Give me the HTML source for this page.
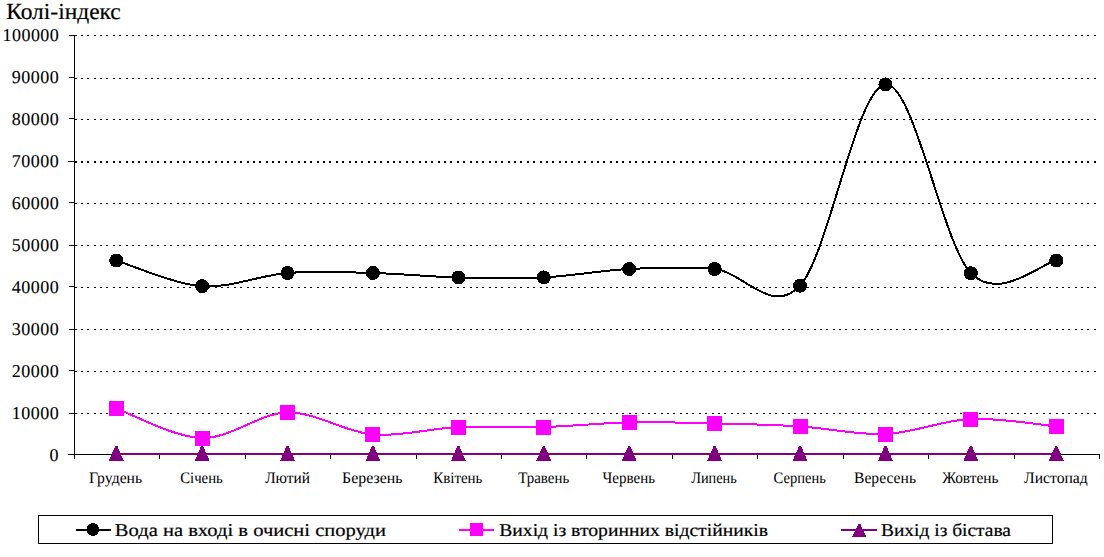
<!DOCTYPE html>
<html><head><meta charset="utf-8"><style>
html,body{margin:0;padding:0;background:#fff;width:1104px;height:557px;overflow:hidden}
svg{display:block;font-family:"Liberation Serif",serif;text-rendering:geometricPrecision}
</style></head><body>
<svg width="1104" height="557" viewBox="0 0 1104 557">
<text x="6.20" y="18.80" font-size="23" textLength="114.60" lengthAdjust="spacingAndGlyphs" stroke="#000" stroke-width="0.20">Колі-індекс</text>
<path d="M75,35h2v1h-2zM81,35h2v1h-2zM87,35h2v1h-2zM94,35h2v1h-2zM100,35h2v1h-2zM106,35h2v1h-2zM113,35h2v1h-2zM119,35h2v1h-2zM126,35h2v1h-2zM132,35h2v1h-2zM138,35h2v1h-2zM145,35h2v1h-2zM151,35h2v1h-2zM157,35h2v1h-2zM164,35h2v1h-2zM170,35h2v1h-2zM177,35h2v1h-2zM183,35h2v1h-2zM189,35h2v1h-2zM196,35h2v1h-2zM202,35h2v1h-2zM208,35h2v1h-2zM215,35h2v1h-2zM221,35h2v1h-2zM227,35h2v1h-2zM234,35h2v1h-2zM240,35h2v1h-2zM247,35h2v1h-2zM253,35h2v1h-2zM259,35h2v1h-2zM266,35h2v1h-2zM272,35h2v1h-2zM278,35h2v1h-2zM285,35h2v1h-2zM291,35h2v1h-2zM298,35h2v1h-2zM304,35h2v1h-2zM310,35h2v1h-2zM317,35h2v1h-2zM323,35h2v1h-2zM329,35h2v1h-2zM336,35h2v1h-2zM342,35h2v1h-2zM349,35h2v1h-2zM355,35h2v1h-2zM361,35h2v1h-2zM368,35h2v1h-2zM374,35h2v1h-2zM380,35h2v1h-2zM387,35h2v1h-2zM393,35h2v1h-2zM399,35h2v1h-2zM406,35h2v1h-2zM412,35h2v1h-2zM419,35h2v1h-2zM425,35h2v1h-2zM431,35h2v1h-2zM438,35h2v1h-2zM444,35h2v1h-2zM450,35h2v1h-2zM457,35h2v1h-2zM463,35h2v1h-2zM470,35h2v1h-2zM476,35h2v1h-2zM482,35h2v1h-2zM489,35h2v1h-2zM495,35h2v1h-2zM501,35h2v1h-2zM508,35h2v1h-2zM514,35h2v1h-2zM520,35h2v1h-2zM527,35h2v1h-2zM533,35h2v1h-2zM540,35h2v1h-2zM546,35h2v1h-2zM552,35h2v1h-2zM559,35h2v1h-2zM565,35h2v1h-2zM571,35h2v1h-2zM578,35h2v1h-2zM584,35h2v1h-2zM591,35h2v1h-2zM597,35h2v1h-2zM603,35h2v1h-2zM610,35h2v1h-2zM616,35h2v1h-2zM622,35h2v1h-2zM629,35h2v1h-2zM635,35h2v1h-2zM642,35h2v1h-2zM648,35h2v1h-2zM654,35h2v1h-2zM661,35h2v1h-2zM667,35h2v1h-2zM673,35h2v1h-2zM680,35h2v1h-2zM686,35h2v1h-2zM692,35h2v1h-2zM699,35h2v1h-2zM705,35h2v1h-2zM712,35h2v1h-2zM718,35h2v1h-2zM724,35h2v1h-2zM731,35h2v1h-2zM737,35h2v1h-2zM743,35h2v1h-2zM750,35h2v1h-2zM756,35h2v1h-2zM763,35h2v1h-2zM769,35h2v1h-2zM775,35h2v1h-2zM782,35h2v1h-2zM788,35h2v1h-2zM794,35h2v1h-2zM801,35h2v1h-2zM807,35h2v1h-2zM814,35h2v1h-2zM820,35h2v1h-2zM826,35h2v1h-2zM833,35h2v1h-2zM839,35h2v1h-2zM845,35h2v1h-2zM852,35h2v1h-2zM858,35h2v1h-2zM864,35h2v1h-2zM871,35h2v1h-2zM877,35h2v1h-2zM884,35h2v1h-2zM890,35h2v1h-2zM896,35h2v1h-2zM903,35h2v1h-2zM909,35h2v1h-2zM915,35h2v1h-2zM922,35h2v1h-2zM928,35h2v1h-2zM935,35h2v1h-2zM941,35h2v1h-2zM947,35h2v1h-2zM954,35h2v1h-2zM960,35h2v1h-2zM966,35h2v1h-2zM973,35h2v1h-2zM979,35h2v1h-2zM986,35h2v1h-2zM992,35h2v1h-2zM998,35h2v1h-2zM1005,35h2v1h-2zM1011,35h2v1h-2zM1017,35h2v1h-2zM1024,35h2v1h-2zM1030,35h2v1h-2zM1036,35h2v1h-2zM1043,35h2v1h-2zM1049,35h2v1h-2zM1056,35h2v1h-2zM1062,35h2v1h-2zM1068,35h2v1h-2zM1075,35h2v1h-2zM1081,35h2v1h-2zM1087,35h2v1h-2zM1094,35h2v1h-2z" fill="#000" shape-rendering="crispEdges"/>
<line x1="69" y1="35.5" x2="75" y2="35.5" stroke="#000" stroke-width="1"/>
<text x="2.60" y="41.00" font-size="18" textLength="56.20" lengthAdjust="spacing" stroke="#000" stroke-width="0.10">100000</text>
<path d="M75,78h2v1h-2zM81,78h2v1h-2zM87,78h2v1h-2zM94,78h2v1h-2zM100,78h2v1h-2zM106,78h2v1h-2zM113,78h2v1h-2zM119,78h2v1h-2zM126,78h2v1h-2zM132,78h2v1h-2zM138,78h2v1h-2zM145,78h2v1h-2zM151,78h2v1h-2zM157,78h2v1h-2zM164,78h2v1h-2zM170,78h2v1h-2zM177,78h2v1h-2zM183,78h2v1h-2zM189,78h2v1h-2zM196,78h2v1h-2zM202,78h2v1h-2zM208,78h2v1h-2zM215,78h2v1h-2zM221,78h2v1h-2zM227,78h2v1h-2zM234,78h2v1h-2zM240,78h2v1h-2zM247,78h2v1h-2zM253,78h2v1h-2zM259,78h2v1h-2zM266,78h2v1h-2zM272,78h2v1h-2zM278,78h2v1h-2zM285,78h2v1h-2zM291,78h2v1h-2zM298,78h2v1h-2zM304,78h2v1h-2zM310,78h2v1h-2zM317,78h2v1h-2zM323,78h2v1h-2zM329,78h2v1h-2zM336,78h2v1h-2zM342,78h2v1h-2zM349,78h2v1h-2zM355,78h2v1h-2zM361,78h2v1h-2zM368,78h2v1h-2zM374,78h2v1h-2zM380,78h2v1h-2zM387,78h2v1h-2zM393,78h2v1h-2zM399,78h2v1h-2zM406,78h2v1h-2zM412,78h2v1h-2zM419,78h2v1h-2zM425,78h2v1h-2zM431,78h2v1h-2zM438,78h2v1h-2zM444,78h2v1h-2zM450,78h2v1h-2zM457,78h2v1h-2zM463,78h2v1h-2zM470,78h2v1h-2zM476,78h2v1h-2zM482,78h2v1h-2zM489,78h2v1h-2zM495,78h2v1h-2zM501,78h2v1h-2zM508,78h2v1h-2zM514,78h2v1h-2zM520,78h2v1h-2zM527,78h2v1h-2zM533,78h2v1h-2zM540,78h2v1h-2zM546,78h2v1h-2zM552,78h2v1h-2zM559,78h2v1h-2zM565,78h2v1h-2zM571,78h2v1h-2zM578,78h2v1h-2zM584,78h2v1h-2zM591,78h2v1h-2zM597,78h2v1h-2zM603,78h2v1h-2zM610,78h2v1h-2zM616,78h2v1h-2zM622,78h2v1h-2zM629,78h2v1h-2zM635,78h2v1h-2zM642,78h2v1h-2zM648,78h2v1h-2zM654,78h2v1h-2zM661,78h2v1h-2zM667,78h2v1h-2zM673,78h2v1h-2zM680,78h2v1h-2zM686,78h2v1h-2zM692,78h2v1h-2zM699,78h2v1h-2zM705,78h2v1h-2zM712,78h2v1h-2zM718,78h2v1h-2zM724,78h2v1h-2zM731,78h2v1h-2zM737,78h2v1h-2zM743,78h2v1h-2zM750,78h2v1h-2zM756,78h2v1h-2zM763,78h2v1h-2zM769,78h2v1h-2zM775,78h2v1h-2zM782,78h2v1h-2zM788,78h2v1h-2zM794,78h2v1h-2zM801,78h2v1h-2zM807,78h2v1h-2zM814,78h2v1h-2zM820,78h2v1h-2zM826,78h2v1h-2zM833,78h2v1h-2zM839,78h2v1h-2zM845,78h2v1h-2zM852,78h2v1h-2zM858,78h2v1h-2zM864,78h2v1h-2zM871,78h2v1h-2zM877,78h2v1h-2zM884,78h2v1h-2zM890,78h2v1h-2zM896,78h2v1h-2zM903,78h2v1h-2zM909,78h2v1h-2zM915,78h2v1h-2zM922,78h2v1h-2zM928,78h2v1h-2zM935,78h2v1h-2zM941,78h2v1h-2zM947,78h2v1h-2zM954,78h2v1h-2zM960,78h2v1h-2zM966,78h2v1h-2zM973,78h2v1h-2zM979,78h2v1h-2zM986,78h2v1h-2zM992,78h2v1h-2zM998,78h2v1h-2zM1005,78h2v1h-2zM1011,78h2v1h-2zM1017,78h2v1h-2zM1024,78h2v1h-2zM1030,78h2v1h-2zM1036,78h2v1h-2zM1043,78h2v1h-2zM1049,78h2v1h-2zM1056,78h2v1h-2zM1062,78h2v1h-2zM1068,78h2v1h-2zM1075,78h2v1h-2zM1081,78h2v1h-2zM1087,78h2v1h-2zM1094,78h2v1h-2z" fill="#000" shape-rendering="crispEdges"/>
<line x1="69" y1="77.5" x2="75" y2="77.5" stroke="#000" stroke-width="1"/>
<text x="11.80" y="83.00" font-size="18" textLength="47.00" lengthAdjust="spacing" stroke="#000" stroke-width="0.10">90000</text>
<path d="M75,119h2v1h-2zM81,119h2v1h-2zM87,119h2v1h-2zM94,119h2v1h-2zM100,119h2v1h-2zM106,119h2v1h-2zM113,119h2v1h-2zM119,119h2v1h-2zM126,119h2v1h-2zM132,119h2v1h-2zM138,119h2v1h-2zM145,119h2v1h-2zM151,119h2v1h-2zM157,119h2v1h-2zM164,119h2v1h-2zM170,119h2v1h-2zM177,119h2v1h-2zM183,119h2v1h-2zM189,119h2v1h-2zM196,119h2v1h-2zM202,119h2v1h-2zM208,119h2v1h-2zM215,119h2v1h-2zM221,119h2v1h-2zM227,119h2v1h-2zM234,119h2v1h-2zM240,119h2v1h-2zM247,119h2v1h-2zM253,119h2v1h-2zM259,119h2v1h-2zM266,119h2v1h-2zM272,119h2v1h-2zM278,119h2v1h-2zM285,119h2v1h-2zM291,119h2v1h-2zM298,119h2v1h-2zM304,119h2v1h-2zM310,119h2v1h-2zM317,119h2v1h-2zM323,119h2v1h-2zM329,119h2v1h-2zM336,119h2v1h-2zM342,119h2v1h-2zM349,119h2v1h-2zM355,119h2v1h-2zM361,119h2v1h-2zM368,119h2v1h-2zM374,119h2v1h-2zM380,119h2v1h-2zM387,119h2v1h-2zM393,119h2v1h-2zM399,119h2v1h-2zM406,119h2v1h-2zM412,119h2v1h-2zM419,119h2v1h-2zM425,119h2v1h-2zM431,119h2v1h-2zM438,119h2v1h-2zM444,119h2v1h-2zM450,119h2v1h-2zM457,119h2v1h-2zM463,119h2v1h-2zM470,119h2v1h-2zM476,119h2v1h-2zM482,119h2v1h-2zM489,119h2v1h-2zM495,119h2v1h-2zM501,119h2v1h-2zM508,119h2v1h-2zM514,119h2v1h-2zM520,119h2v1h-2zM527,119h2v1h-2zM533,119h2v1h-2zM540,119h2v1h-2zM546,119h2v1h-2zM552,119h2v1h-2zM559,119h2v1h-2zM565,119h2v1h-2zM571,119h2v1h-2zM578,119h2v1h-2zM584,119h2v1h-2zM591,119h2v1h-2zM597,119h2v1h-2zM603,119h2v1h-2zM610,119h2v1h-2zM616,119h2v1h-2zM622,119h2v1h-2zM629,119h2v1h-2zM635,119h2v1h-2zM642,119h2v1h-2zM648,119h2v1h-2zM654,119h2v1h-2zM661,119h2v1h-2zM667,119h2v1h-2zM673,119h2v1h-2zM680,119h2v1h-2zM686,119h2v1h-2zM692,119h2v1h-2zM699,119h2v1h-2zM705,119h2v1h-2zM712,119h2v1h-2zM718,119h2v1h-2zM724,119h2v1h-2zM731,119h2v1h-2zM737,119h2v1h-2zM743,119h2v1h-2zM750,119h2v1h-2zM756,119h2v1h-2zM763,119h2v1h-2zM769,119h2v1h-2zM775,119h2v1h-2zM782,119h2v1h-2zM788,119h2v1h-2zM794,119h2v1h-2zM801,119h2v1h-2zM807,119h2v1h-2zM814,119h2v1h-2zM820,119h2v1h-2zM826,119h2v1h-2zM833,119h2v1h-2zM839,119h2v1h-2zM845,119h2v1h-2zM852,119h2v1h-2zM858,119h2v1h-2zM864,119h2v1h-2zM871,119h2v1h-2zM877,119h2v1h-2zM884,119h2v1h-2zM890,119h2v1h-2zM896,119h2v1h-2zM903,119h2v1h-2zM909,119h2v1h-2zM915,119h2v1h-2zM922,119h2v1h-2zM928,119h2v1h-2zM935,119h2v1h-2zM941,119h2v1h-2zM947,119h2v1h-2zM954,119h2v1h-2zM960,119h2v1h-2zM966,119h2v1h-2zM973,119h2v1h-2zM979,119h2v1h-2zM986,119h2v1h-2zM992,119h2v1h-2zM998,119h2v1h-2zM1005,119h2v1h-2zM1011,119h2v1h-2zM1017,119h2v1h-2zM1024,119h2v1h-2zM1030,119h2v1h-2zM1036,119h2v1h-2zM1043,119h2v1h-2zM1049,119h2v1h-2zM1056,119h2v1h-2zM1062,119h2v1h-2zM1068,119h2v1h-2zM1075,119h2v1h-2zM1081,119h2v1h-2zM1087,119h2v1h-2zM1094,119h2v1h-2z" fill="#000" shape-rendering="crispEdges"/>
<line x1="69" y1="118.5" x2="75" y2="118.5" stroke="#000" stroke-width="1"/>
<text x="11.80" y="125.00" font-size="18" textLength="47.00" lengthAdjust="spacing" stroke="#000" stroke-width="0.10">80000</text>
<path d="M75,161h2v2h-2zM81,161h2v2h-2zM87,161h2v2h-2zM94,161h2v2h-2zM100,161h2v2h-2zM106,161h2v2h-2zM113,161h2v2h-2zM119,161h2v2h-2zM126,161h2v2h-2zM132,161h2v2h-2zM138,161h2v2h-2zM145,161h2v2h-2zM151,161h2v2h-2zM157,161h2v2h-2zM164,161h2v2h-2zM170,161h2v2h-2zM177,161h2v2h-2zM183,161h2v2h-2zM189,161h2v2h-2zM196,161h2v2h-2zM202,161h2v2h-2zM208,161h2v2h-2zM215,161h2v2h-2zM221,161h2v2h-2zM227,161h2v2h-2zM234,161h2v2h-2zM240,161h2v2h-2zM247,161h2v2h-2zM253,161h2v2h-2zM259,161h2v2h-2zM266,161h2v2h-2zM272,161h2v2h-2zM278,161h2v2h-2zM285,161h2v2h-2zM291,161h2v2h-2zM298,161h2v2h-2zM304,161h2v2h-2zM310,161h2v2h-2zM317,161h2v2h-2zM323,161h2v2h-2zM329,161h2v2h-2zM336,161h2v2h-2zM342,161h2v2h-2zM349,161h2v2h-2zM355,161h2v2h-2zM361,161h2v2h-2zM368,161h2v2h-2zM374,161h2v2h-2zM380,161h2v2h-2zM387,161h2v2h-2zM393,161h2v2h-2zM399,161h2v2h-2zM406,161h2v2h-2zM412,161h2v2h-2zM419,161h2v2h-2zM425,161h2v2h-2zM431,161h2v2h-2zM438,161h2v2h-2zM444,161h2v2h-2zM450,161h2v2h-2zM457,161h2v2h-2zM463,161h2v2h-2zM470,161h2v2h-2zM476,161h2v2h-2zM482,161h2v2h-2zM489,161h2v2h-2zM495,161h2v2h-2zM501,161h2v2h-2zM508,161h2v2h-2zM514,161h2v2h-2zM520,161h2v2h-2zM527,161h2v2h-2zM533,161h2v2h-2zM540,161h2v2h-2zM546,161h2v2h-2zM552,161h2v2h-2zM559,161h2v2h-2zM565,161h2v2h-2zM571,161h2v2h-2zM578,161h2v2h-2zM584,161h2v2h-2zM591,161h2v2h-2zM597,161h2v2h-2zM603,161h2v2h-2zM610,161h2v2h-2zM616,161h2v2h-2zM622,161h2v2h-2zM629,161h2v2h-2zM635,161h2v2h-2zM642,161h2v2h-2zM648,161h2v2h-2zM654,161h2v2h-2zM661,161h2v2h-2zM667,161h2v2h-2zM673,161h2v2h-2zM680,161h2v2h-2zM686,161h2v2h-2zM692,161h2v2h-2zM699,161h2v2h-2zM705,161h2v2h-2zM712,161h2v2h-2zM718,161h2v2h-2zM724,161h2v2h-2zM731,161h2v2h-2zM737,161h2v2h-2zM743,161h2v2h-2zM750,161h2v2h-2zM756,161h2v2h-2zM763,161h2v2h-2zM769,161h2v2h-2zM775,161h2v2h-2zM782,161h2v2h-2zM788,161h2v2h-2zM794,161h2v2h-2zM801,161h2v2h-2zM807,161h2v2h-2zM814,161h2v2h-2zM820,161h2v2h-2zM826,161h2v2h-2zM833,161h2v2h-2zM839,161h2v2h-2zM845,161h2v2h-2zM852,161h2v2h-2zM858,161h2v2h-2zM864,161h2v2h-2zM871,161h2v2h-2zM877,161h2v2h-2zM884,161h2v2h-2zM890,161h2v2h-2zM896,161h2v2h-2zM903,161h2v2h-2zM909,161h2v2h-2zM915,161h2v2h-2zM922,161h2v2h-2zM928,161h2v2h-2zM935,161h2v2h-2zM941,161h2v2h-2zM947,161h2v2h-2zM954,161h2v2h-2zM960,161h2v2h-2zM966,161h2v2h-2zM973,161h2v2h-2zM979,161h2v2h-2zM986,161h2v2h-2zM992,161h2v2h-2zM998,161h2v2h-2zM1005,161h2v2h-2zM1011,161h2v2h-2zM1017,161h2v2h-2zM1024,161h2v2h-2zM1030,161h2v2h-2zM1036,161h2v2h-2zM1043,161h2v2h-2zM1049,161h2v2h-2zM1056,161h2v2h-2zM1062,161h2v2h-2zM1068,161h2v2h-2zM1075,161h2v2h-2zM1081,161h2v2h-2zM1087,161h2v2h-2zM1094,161h2v2h-2z" fill="#000" shape-rendering="crispEdges"/>
<line x1="68" y1="161.5" x2="75" y2="161.5" stroke="#000" stroke-width="1"/>
<text x="11.80" y="167.00" font-size="18" textLength="47.00" lengthAdjust="spacing" stroke="#000" stroke-width="0.10">70000</text>
<path d="M75,203h2v1h-2zM81,203h2v1h-2zM87,203h2v1h-2zM94,203h2v1h-2zM100,203h2v1h-2zM106,203h2v1h-2zM113,203h2v1h-2zM119,203h2v1h-2zM126,203h2v1h-2zM132,203h2v1h-2zM138,203h2v1h-2zM145,203h2v1h-2zM151,203h2v1h-2zM157,203h2v1h-2zM164,203h2v1h-2zM170,203h2v1h-2zM177,203h2v1h-2zM183,203h2v1h-2zM189,203h2v1h-2zM196,203h2v1h-2zM202,203h2v1h-2zM208,203h2v1h-2zM215,203h2v1h-2zM221,203h2v1h-2zM227,203h2v1h-2zM234,203h2v1h-2zM240,203h2v1h-2zM247,203h2v1h-2zM253,203h2v1h-2zM259,203h2v1h-2zM266,203h2v1h-2zM272,203h2v1h-2zM278,203h2v1h-2zM285,203h2v1h-2zM291,203h2v1h-2zM298,203h2v1h-2zM304,203h2v1h-2zM310,203h2v1h-2zM317,203h2v1h-2zM323,203h2v1h-2zM329,203h2v1h-2zM336,203h2v1h-2zM342,203h2v1h-2zM349,203h2v1h-2zM355,203h2v1h-2zM361,203h2v1h-2zM368,203h2v1h-2zM374,203h2v1h-2zM380,203h2v1h-2zM387,203h2v1h-2zM393,203h2v1h-2zM399,203h2v1h-2zM406,203h2v1h-2zM412,203h2v1h-2zM419,203h2v1h-2zM425,203h2v1h-2zM431,203h2v1h-2zM438,203h2v1h-2zM444,203h2v1h-2zM450,203h2v1h-2zM457,203h2v1h-2zM463,203h2v1h-2zM470,203h2v1h-2zM476,203h2v1h-2zM482,203h2v1h-2zM489,203h2v1h-2zM495,203h2v1h-2zM501,203h2v1h-2zM508,203h2v1h-2zM514,203h2v1h-2zM520,203h2v1h-2zM527,203h2v1h-2zM533,203h2v1h-2zM540,203h2v1h-2zM546,203h2v1h-2zM552,203h2v1h-2zM559,203h2v1h-2zM565,203h2v1h-2zM571,203h2v1h-2zM578,203h2v1h-2zM584,203h2v1h-2zM591,203h2v1h-2zM597,203h2v1h-2zM603,203h2v1h-2zM610,203h2v1h-2zM616,203h2v1h-2zM622,203h2v1h-2zM629,203h2v1h-2zM635,203h2v1h-2zM642,203h2v1h-2zM648,203h2v1h-2zM654,203h2v1h-2zM661,203h2v1h-2zM667,203h2v1h-2zM673,203h2v1h-2zM680,203h2v1h-2zM686,203h2v1h-2zM692,203h2v1h-2zM699,203h2v1h-2zM705,203h2v1h-2zM712,203h2v1h-2zM718,203h2v1h-2zM724,203h2v1h-2zM731,203h2v1h-2zM737,203h2v1h-2zM743,203h2v1h-2zM750,203h2v1h-2zM756,203h2v1h-2zM763,203h2v1h-2zM769,203h2v1h-2zM775,203h2v1h-2zM782,203h2v1h-2zM788,203h2v1h-2zM794,203h2v1h-2zM801,203h2v1h-2zM807,203h2v1h-2zM814,203h2v1h-2zM820,203h2v1h-2zM826,203h2v1h-2zM833,203h2v1h-2zM839,203h2v1h-2zM845,203h2v1h-2zM852,203h2v1h-2zM858,203h2v1h-2zM864,203h2v1h-2zM871,203h2v1h-2zM877,203h2v1h-2zM884,203h2v1h-2zM890,203h2v1h-2zM896,203h2v1h-2zM903,203h2v1h-2zM909,203h2v1h-2zM915,203h2v1h-2zM922,203h2v1h-2zM928,203h2v1h-2zM935,203h2v1h-2zM941,203h2v1h-2zM947,203h2v1h-2zM954,203h2v1h-2zM960,203h2v1h-2zM966,203h2v1h-2zM973,203h2v1h-2zM979,203h2v1h-2zM986,203h2v1h-2zM992,203h2v1h-2zM998,203h2v1h-2zM1005,203h2v1h-2zM1011,203h2v1h-2zM1017,203h2v1h-2zM1024,203h2v1h-2zM1030,203h2v1h-2zM1036,203h2v1h-2zM1043,203h2v1h-2zM1049,203h2v1h-2zM1056,203h2v1h-2zM1062,203h2v1h-2zM1068,203h2v1h-2zM1075,203h2v1h-2zM1081,203h2v1h-2zM1087,203h2v1h-2zM1094,203h2v1h-2z" fill="#000" shape-rendering="crispEdges"/>
<line x1="69" y1="202.5" x2="75" y2="202.5" stroke="#000" stroke-width="1"/>
<text x="11.80" y="209.00" font-size="18" textLength="47.00" lengthAdjust="spacing" stroke="#000" stroke-width="0.10">60000</text>
<path d="M75,245h2v1h-2zM81,245h2v1h-2zM87,245h2v1h-2zM94,245h2v1h-2zM100,245h2v1h-2zM106,245h2v1h-2zM113,245h2v1h-2zM119,245h2v1h-2zM126,245h2v1h-2zM132,245h2v1h-2zM138,245h2v1h-2zM145,245h2v1h-2zM151,245h2v1h-2zM157,245h2v1h-2zM164,245h2v1h-2zM170,245h2v1h-2zM177,245h2v1h-2zM183,245h2v1h-2zM189,245h2v1h-2zM196,245h2v1h-2zM202,245h2v1h-2zM208,245h2v1h-2zM215,245h2v1h-2zM221,245h2v1h-2zM227,245h2v1h-2zM234,245h2v1h-2zM240,245h2v1h-2zM247,245h2v1h-2zM253,245h2v1h-2zM259,245h2v1h-2zM266,245h2v1h-2zM272,245h2v1h-2zM278,245h2v1h-2zM285,245h2v1h-2zM291,245h2v1h-2zM298,245h2v1h-2zM304,245h2v1h-2zM310,245h2v1h-2zM317,245h2v1h-2zM323,245h2v1h-2zM329,245h2v1h-2zM336,245h2v1h-2zM342,245h2v1h-2zM349,245h2v1h-2zM355,245h2v1h-2zM361,245h2v1h-2zM368,245h2v1h-2zM374,245h2v1h-2zM380,245h2v1h-2zM387,245h2v1h-2zM393,245h2v1h-2zM399,245h2v1h-2zM406,245h2v1h-2zM412,245h2v1h-2zM419,245h2v1h-2zM425,245h2v1h-2zM431,245h2v1h-2zM438,245h2v1h-2zM444,245h2v1h-2zM450,245h2v1h-2zM457,245h2v1h-2zM463,245h2v1h-2zM470,245h2v1h-2zM476,245h2v1h-2zM482,245h2v1h-2zM489,245h2v1h-2zM495,245h2v1h-2zM501,245h2v1h-2zM508,245h2v1h-2zM514,245h2v1h-2zM520,245h2v1h-2zM527,245h2v1h-2zM533,245h2v1h-2zM540,245h2v1h-2zM546,245h2v1h-2zM552,245h2v1h-2zM559,245h2v1h-2zM565,245h2v1h-2zM571,245h2v1h-2zM578,245h2v1h-2zM584,245h2v1h-2zM591,245h2v1h-2zM597,245h2v1h-2zM603,245h2v1h-2zM610,245h2v1h-2zM616,245h2v1h-2zM622,245h2v1h-2zM629,245h2v1h-2zM635,245h2v1h-2zM642,245h2v1h-2zM648,245h2v1h-2zM654,245h2v1h-2zM661,245h2v1h-2zM667,245h2v1h-2zM673,245h2v1h-2zM680,245h2v1h-2zM686,245h2v1h-2zM692,245h2v1h-2zM699,245h2v1h-2zM705,245h2v1h-2zM712,245h2v1h-2zM718,245h2v1h-2zM724,245h2v1h-2zM731,245h2v1h-2zM737,245h2v1h-2zM743,245h2v1h-2zM750,245h2v1h-2zM756,245h2v1h-2zM763,245h2v1h-2zM769,245h2v1h-2zM775,245h2v1h-2zM782,245h2v1h-2zM788,245h2v1h-2zM794,245h2v1h-2zM801,245h2v1h-2zM807,245h2v1h-2zM814,245h2v1h-2zM820,245h2v1h-2zM826,245h2v1h-2zM833,245h2v1h-2zM839,245h2v1h-2zM845,245h2v1h-2zM852,245h2v1h-2zM858,245h2v1h-2zM864,245h2v1h-2zM871,245h2v1h-2zM877,245h2v1h-2zM884,245h2v1h-2zM890,245h2v1h-2zM896,245h2v1h-2zM903,245h2v1h-2zM909,245h2v1h-2zM915,245h2v1h-2zM922,245h2v1h-2zM928,245h2v1h-2zM935,245h2v1h-2zM941,245h2v1h-2zM947,245h2v1h-2zM954,245h2v1h-2zM960,245h2v1h-2zM966,245h2v1h-2zM973,245h2v1h-2zM979,245h2v1h-2zM986,245h2v1h-2zM992,245h2v1h-2zM998,245h2v1h-2zM1005,245h2v1h-2zM1011,245h2v1h-2zM1017,245h2v1h-2zM1024,245h2v1h-2zM1030,245h2v1h-2zM1036,245h2v1h-2zM1043,245h2v1h-2zM1049,245h2v1h-2zM1056,245h2v1h-2zM1062,245h2v1h-2zM1068,245h2v1h-2zM1075,245h2v1h-2zM1081,245h2v1h-2zM1087,245h2v1h-2zM1094,245h2v1h-2z" fill="#000" shape-rendering="crispEdges"/>
<line x1="69" y1="245.5" x2="75" y2="245.5" stroke="#000" stroke-width="1"/>
<text x="11.80" y="251.00" font-size="18" textLength="47.00" lengthAdjust="spacing" stroke="#000" stroke-width="0.10">50000</text>
<path d="M75,287h2v1h-2zM81,287h2v1h-2zM87,287h2v1h-2zM94,287h2v1h-2zM100,287h2v1h-2zM106,287h2v1h-2zM113,287h2v1h-2zM119,287h2v1h-2zM126,287h2v1h-2zM132,287h2v1h-2zM138,287h2v1h-2zM145,287h2v1h-2zM151,287h2v1h-2zM157,287h2v1h-2zM164,287h2v1h-2zM170,287h2v1h-2zM177,287h2v1h-2zM183,287h2v1h-2zM189,287h2v1h-2zM196,287h2v1h-2zM202,287h2v1h-2zM208,287h2v1h-2zM215,287h2v1h-2zM221,287h2v1h-2zM227,287h2v1h-2zM234,287h2v1h-2zM240,287h2v1h-2zM247,287h2v1h-2zM253,287h2v1h-2zM259,287h2v1h-2zM266,287h2v1h-2zM272,287h2v1h-2zM278,287h2v1h-2zM285,287h2v1h-2zM291,287h2v1h-2zM298,287h2v1h-2zM304,287h2v1h-2zM310,287h2v1h-2zM317,287h2v1h-2zM323,287h2v1h-2zM329,287h2v1h-2zM336,287h2v1h-2zM342,287h2v1h-2zM349,287h2v1h-2zM355,287h2v1h-2zM361,287h2v1h-2zM368,287h2v1h-2zM374,287h2v1h-2zM380,287h2v1h-2zM387,287h2v1h-2zM393,287h2v1h-2zM399,287h2v1h-2zM406,287h2v1h-2zM412,287h2v1h-2zM419,287h2v1h-2zM425,287h2v1h-2zM431,287h2v1h-2zM438,287h2v1h-2zM444,287h2v1h-2zM450,287h2v1h-2zM457,287h2v1h-2zM463,287h2v1h-2zM470,287h2v1h-2zM476,287h2v1h-2zM482,287h2v1h-2zM489,287h2v1h-2zM495,287h2v1h-2zM501,287h2v1h-2zM508,287h2v1h-2zM514,287h2v1h-2zM520,287h2v1h-2zM527,287h2v1h-2zM533,287h2v1h-2zM540,287h2v1h-2zM546,287h2v1h-2zM552,287h2v1h-2zM559,287h2v1h-2zM565,287h2v1h-2zM571,287h2v1h-2zM578,287h2v1h-2zM584,287h2v1h-2zM591,287h2v1h-2zM597,287h2v1h-2zM603,287h2v1h-2zM610,287h2v1h-2zM616,287h2v1h-2zM622,287h2v1h-2zM629,287h2v1h-2zM635,287h2v1h-2zM642,287h2v1h-2zM648,287h2v1h-2zM654,287h2v1h-2zM661,287h2v1h-2zM667,287h2v1h-2zM673,287h2v1h-2zM680,287h2v1h-2zM686,287h2v1h-2zM692,287h2v1h-2zM699,287h2v1h-2zM705,287h2v1h-2zM712,287h2v1h-2zM718,287h2v1h-2zM724,287h2v1h-2zM731,287h2v1h-2zM737,287h2v1h-2zM743,287h2v1h-2zM750,287h2v1h-2zM756,287h2v1h-2zM763,287h2v1h-2zM769,287h2v1h-2zM775,287h2v1h-2zM782,287h2v1h-2zM788,287h2v1h-2zM794,287h2v1h-2zM801,287h2v1h-2zM807,287h2v1h-2zM814,287h2v1h-2zM820,287h2v1h-2zM826,287h2v1h-2zM833,287h2v1h-2zM839,287h2v1h-2zM845,287h2v1h-2zM852,287h2v1h-2zM858,287h2v1h-2zM864,287h2v1h-2zM871,287h2v1h-2zM877,287h2v1h-2zM884,287h2v1h-2zM890,287h2v1h-2zM896,287h2v1h-2zM903,287h2v1h-2zM909,287h2v1h-2zM915,287h2v1h-2zM922,287h2v1h-2zM928,287h2v1h-2zM935,287h2v1h-2zM941,287h2v1h-2zM947,287h2v1h-2zM954,287h2v1h-2zM960,287h2v1h-2zM966,287h2v1h-2zM973,287h2v1h-2zM979,287h2v1h-2zM986,287h2v1h-2zM992,287h2v1h-2zM998,287h2v1h-2zM1005,287h2v1h-2zM1011,287h2v1h-2zM1017,287h2v1h-2zM1024,287h2v1h-2zM1030,287h2v1h-2zM1036,287h2v1h-2zM1043,287h2v1h-2zM1049,287h2v1h-2zM1056,287h2v1h-2zM1062,287h2v1h-2zM1068,287h2v1h-2zM1075,287h2v1h-2zM1081,287h2v1h-2zM1087,287h2v1h-2zM1094,287h2v1h-2z" fill="#000" shape-rendering="crispEdges"/>
<line x1="69" y1="286.5" x2="75" y2="286.5" stroke="#000" stroke-width="1"/>
<text x="11.80" y="293.00" font-size="18" textLength="47.00" lengthAdjust="spacing" stroke="#000" stroke-width="0.10">40000</text>
<path d="M75,329h2v1h-2zM81,329h2v1h-2zM87,329h2v1h-2zM94,329h2v1h-2zM100,329h2v1h-2zM106,329h2v1h-2zM113,329h2v1h-2zM119,329h2v1h-2zM126,329h2v1h-2zM132,329h2v1h-2zM138,329h2v1h-2zM145,329h2v1h-2zM151,329h2v1h-2zM157,329h2v1h-2zM164,329h2v1h-2zM170,329h2v1h-2zM177,329h2v1h-2zM183,329h2v1h-2zM189,329h2v1h-2zM196,329h2v1h-2zM202,329h2v1h-2zM208,329h2v1h-2zM215,329h2v1h-2zM221,329h2v1h-2zM227,329h2v1h-2zM234,329h2v1h-2zM240,329h2v1h-2zM247,329h2v1h-2zM253,329h2v1h-2zM259,329h2v1h-2zM266,329h2v1h-2zM272,329h2v1h-2zM278,329h2v1h-2zM285,329h2v1h-2zM291,329h2v1h-2zM298,329h2v1h-2zM304,329h2v1h-2zM310,329h2v1h-2zM317,329h2v1h-2zM323,329h2v1h-2zM329,329h2v1h-2zM336,329h2v1h-2zM342,329h2v1h-2zM349,329h2v1h-2zM355,329h2v1h-2zM361,329h2v1h-2zM368,329h2v1h-2zM374,329h2v1h-2zM380,329h2v1h-2zM387,329h2v1h-2zM393,329h2v1h-2zM399,329h2v1h-2zM406,329h2v1h-2zM412,329h2v1h-2zM419,329h2v1h-2zM425,329h2v1h-2zM431,329h2v1h-2zM438,329h2v1h-2zM444,329h2v1h-2zM450,329h2v1h-2zM457,329h2v1h-2zM463,329h2v1h-2zM470,329h2v1h-2zM476,329h2v1h-2zM482,329h2v1h-2zM489,329h2v1h-2zM495,329h2v1h-2zM501,329h2v1h-2zM508,329h2v1h-2zM514,329h2v1h-2zM520,329h2v1h-2zM527,329h2v1h-2zM533,329h2v1h-2zM540,329h2v1h-2zM546,329h2v1h-2zM552,329h2v1h-2zM559,329h2v1h-2zM565,329h2v1h-2zM571,329h2v1h-2zM578,329h2v1h-2zM584,329h2v1h-2zM591,329h2v1h-2zM597,329h2v1h-2zM603,329h2v1h-2zM610,329h2v1h-2zM616,329h2v1h-2zM622,329h2v1h-2zM629,329h2v1h-2zM635,329h2v1h-2zM642,329h2v1h-2zM648,329h2v1h-2zM654,329h2v1h-2zM661,329h2v1h-2zM667,329h2v1h-2zM673,329h2v1h-2zM680,329h2v1h-2zM686,329h2v1h-2zM692,329h2v1h-2zM699,329h2v1h-2zM705,329h2v1h-2zM712,329h2v1h-2zM718,329h2v1h-2zM724,329h2v1h-2zM731,329h2v1h-2zM737,329h2v1h-2zM743,329h2v1h-2zM750,329h2v1h-2zM756,329h2v1h-2zM763,329h2v1h-2zM769,329h2v1h-2zM775,329h2v1h-2zM782,329h2v1h-2zM788,329h2v1h-2zM794,329h2v1h-2zM801,329h2v1h-2zM807,329h2v1h-2zM814,329h2v1h-2zM820,329h2v1h-2zM826,329h2v1h-2zM833,329h2v1h-2zM839,329h2v1h-2zM845,329h2v1h-2zM852,329h2v1h-2zM858,329h2v1h-2zM864,329h2v1h-2zM871,329h2v1h-2zM877,329h2v1h-2zM884,329h2v1h-2zM890,329h2v1h-2zM896,329h2v1h-2zM903,329h2v1h-2zM909,329h2v1h-2zM915,329h2v1h-2zM922,329h2v1h-2zM928,329h2v1h-2zM935,329h2v1h-2zM941,329h2v1h-2zM947,329h2v1h-2zM954,329h2v1h-2zM960,329h2v1h-2zM966,329h2v1h-2zM973,329h2v1h-2zM979,329h2v1h-2zM986,329h2v1h-2zM992,329h2v1h-2zM998,329h2v1h-2zM1005,329h2v1h-2zM1011,329h2v1h-2zM1017,329h2v1h-2zM1024,329h2v1h-2zM1030,329h2v1h-2zM1036,329h2v1h-2zM1043,329h2v1h-2zM1049,329h2v1h-2zM1056,329h2v1h-2zM1062,329h2v1h-2zM1068,329h2v1h-2zM1075,329h2v1h-2zM1081,329h2v1h-2zM1087,329h2v1h-2zM1094,329h2v1h-2z" fill="#000" shape-rendering="crispEdges"/>
<line x1="69" y1="329.5" x2="75" y2="329.5" stroke="#000" stroke-width="1"/>
<text x="11.80" y="335.00" font-size="18" textLength="47.00" lengthAdjust="spacing" stroke="#000" stroke-width="0.10">30000</text>
<path d="M75,371h2v1h-2zM81,371h2v1h-2zM87,371h2v1h-2zM94,371h2v1h-2zM100,371h2v1h-2zM106,371h2v1h-2zM113,371h2v1h-2zM119,371h2v1h-2zM126,371h2v1h-2zM132,371h2v1h-2zM138,371h2v1h-2zM145,371h2v1h-2zM151,371h2v1h-2zM157,371h2v1h-2zM164,371h2v1h-2zM170,371h2v1h-2zM177,371h2v1h-2zM183,371h2v1h-2zM189,371h2v1h-2zM196,371h2v1h-2zM202,371h2v1h-2zM208,371h2v1h-2zM215,371h2v1h-2zM221,371h2v1h-2zM227,371h2v1h-2zM234,371h2v1h-2zM240,371h2v1h-2zM247,371h2v1h-2zM253,371h2v1h-2zM259,371h2v1h-2zM266,371h2v1h-2zM272,371h2v1h-2zM278,371h2v1h-2zM285,371h2v1h-2zM291,371h2v1h-2zM298,371h2v1h-2zM304,371h2v1h-2zM310,371h2v1h-2zM317,371h2v1h-2zM323,371h2v1h-2zM329,371h2v1h-2zM336,371h2v1h-2zM342,371h2v1h-2zM349,371h2v1h-2zM355,371h2v1h-2zM361,371h2v1h-2zM368,371h2v1h-2zM374,371h2v1h-2zM380,371h2v1h-2zM387,371h2v1h-2zM393,371h2v1h-2zM399,371h2v1h-2zM406,371h2v1h-2zM412,371h2v1h-2zM419,371h2v1h-2zM425,371h2v1h-2zM431,371h2v1h-2zM438,371h2v1h-2zM444,371h2v1h-2zM450,371h2v1h-2zM457,371h2v1h-2zM463,371h2v1h-2zM470,371h2v1h-2zM476,371h2v1h-2zM482,371h2v1h-2zM489,371h2v1h-2zM495,371h2v1h-2zM501,371h2v1h-2zM508,371h2v1h-2zM514,371h2v1h-2zM520,371h2v1h-2zM527,371h2v1h-2zM533,371h2v1h-2zM540,371h2v1h-2zM546,371h2v1h-2zM552,371h2v1h-2zM559,371h2v1h-2zM565,371h2v1h-2zM571,371h2v1h-2zM578,371h2v1h-2zM584,371h2v1h-2zM591,371h2v1h-2zM597,371h2v1h-2zM603,371h2v1h-2zM610,371h2v1h-2zM616,371h2v1h-2zM622,371h2v1h-2zM629,371h2v1h-2zM635,371h2v1h-2zM642,371h2v1h-2zM648,371h2v1h-2zM654,371h2v1h-2zM661,371h2v1h-2zM667,371h2v1h-2zM673,371h2v1h-2zM680,371h2v1h-2zM686,371h2v1h-2zM692,371h2v1h-2zM699,371h2v1h-2zM705,371h2v1h-2zM712,371h2v1h-2zM718,371h2v1h-2zM724,371h2v1h-2zM731,371h2v1h-2zM737,371h2v1h-2zM743,371h2v1h-2zM750,371h2v1h-2zM756,371h2v1h-2zM763,371h2v1h-2zM769,371h2v1h-2zM775,371h2v1h-2zM782,371h2v1h-2zM788,371h2v1h-2zM794,371h2v1h-2zM801,371h2v1h-2zM807,371h2v1h-2zM814,371h2v1h-2zM820,371h2v1h-2zM826,371h2v1h-2zM833,371h2v1h-2zM839,371h2v1h-2zM845,371h2v1h-2zM852,371h2v1h-2zM858,371h2v1h-2zM864,371h2v1h-2zM871,371h2v1h-2zM877,371h2v1h-2zM884,371h2v1h-2zM890,371h2v1h-2zM896,371h2v1h-2zM903,371h2v1h-2zM909,371h2v1h-2zM915,371h2v1h-2zM922,371h2v1h-2zM928,371h2v1h-2zM935,371h2v1h-2zM941,371h2v1h-2zM947,371h2v1h-2zM954,371h2v1h-2zM960,371h2v1h-2zM966,371h2v1h-2zM973,371h2v1h-2zM979,371h2v1h-2zM986,371h2v1h-2zM992,371h2v1h-2zM998,371h2v1h-2zM1005,371h2v1h-2zM1011,371h2v1h-2zM1017,371h2v1h-2zM1024,371h2v1h-2zM1030,371h2v1h-2zM1036,371h2v1h-2zM1043,371h2v1h-2zM1049,371h2v1h-2zM1056,371h2v1h-2zM1062,371h2v1h-2zM1068,371h2v1h-2zM1075,371h2v1h-2zM1081,371h2v1h-2zM1087,371h2v1h-2zM1094,371h2v1h-2z" fill="#000" shape-rendering="crispEdges"/>
<line x1="69" y1="370.5" x2="75" y2="370.5" stroke="#000" stroke-width="1"/>
<text x="11.80" y="377.00" font-size="18" textLength="47.00" lengthAdjust="spacing" stroke="#000" stroke-width="0.10">20000</text>
<path d="M75,413h2v1h-2zM81,413h2v1h-2zM87,413h2v1h-2zM94,413h2v1h-2zM100,413h2v1h-2zM106,413h2v1h-2zM113,413h2v1h-2zM119,413h2v1h-2zM126,413h2v1h-2zM132,413h2v1h-2zM138,413h2v1h-2zM145,413h2v1h-2zM151,413h2v1h-2zM157,413h2v1h-2zM164,413h2v1h-2zM170,413h2v1h-2zM177,413h2v1h-2zM183,413h2v1h-2zM189,413h2v1h-2zM196,413h2v1h-2zM202,413h2v1h-2zM208,413h2v1h-2zM215,413h2v1h-2zM221,413h2v1h-2zM227,413h2v1h-2zM234,413h2v1h-2zM240,413h2v1h-2zM247,413h2v1h-2zM253,413h2v1h-2zM259,413h2v1h-2zM266,413h2v1h-2zM272,413h2v1h-2zM278,413h2v1h-2zM285,413h2v1h-2zM291,413h2v1h-2zM298,413h2v1h-2zM304,413h2v1h-2zM310,413h2v1h-2zM317,413h2v1h-2zM323,413h2v1h-2zM329,413h2v1h-2zM336,413h2v1h-2zM342,413h2v1h-2zM349,413h2v1h-2zM355,413h2v1h-2zM361,413h2v1h-2zM368,413h2v1h-2zM374,413h2v1h-2zM380,413h2v1h-2zM387,413h2v1h-2zM393,413h2v1h-2zM399,413h2v1h-2zM406,413h2v1h-2zM412,413h2v1h-2zM419,413h2v1h-2zM425,413h2v1h-2zM431,413h2v1h-2zM438,413h2v1h-2zM444,413h2v1h-2zM450,413h2v1h-2zM457,413h2v1h-2zM463,413h2v1h-2zM470,413h2v1h-2zM476,413h2v1h-2zM482,413h2v1h-2zM489,413h2v1h-2zM495,413h2v1h-2zM501,413h2v1h-2zM508,413h2v1h-2zM514,413h2v1h-2zM520,413h2v1h-2zM527,413h2v1h-2zM533,413h2v1h-2zM540,413h2v1h-2zM546,413h2v1h-2zM552,413h2v1h-2zM559,413h2v1h-2zM565,413h2v1h-2zM571,413h2v1h-2zM578,413h2v1h-2zM584,413h2v1h-2zM591,413h2v1h-2zM597,413h2v1h-2zM603,413h2v1h-2zM610,413h2v1h-2zM616,413h2v1h-2zM622,413h2v1h-2zM629,413h2v1h-2zM635,413h2v1h-2zM642,413h2v1h-2zM648,413h2v1h-2zM654,413h2v1h-2zM661,413h2v1h-2zM667,413h2v1h-2zM673,413h2v1h-2zM680,413h2v1h-2zM686,413h2v1h-2zM692,413h2v1h-2zM699,413h2v1h-2zM705,413h2v1h-2zM712,413h2v1h-2zM718,413h2v1h-2zM724,413h2v1h-2zM731,413h2v1h-2zM737,413h2v1h-2zM743,413h2v1h-2zM750,413h2v1h-2zM756,413h2v1h-2zM763,413h2v1h-2zM769,413h2v1h-2zM775,413h2v1h-2zM782,413h2v1h-2zM788,413h2v1h-2zM794,413h2v1h-2zM801,413h2v1h-2zM807,413h2v1h-2zM814,413h2v1h-2zM820,413h2v1h-2zM826,413h2v1h-2zM833,413h2v1h-2zM839,413h2v1h-2zM845,413h2v1h-2zM852,413h2v1h-2zM858,413h2v1h-2zM864,413h2v1h-2zM871,413h2v1h-2zM877,413h2v1h-2zM884,413h2v1h-2zM890,413h2v1h-2zM896,413h2v1h-2zM903,413h2v1h-2zM909,413h2v1h-2zM915,413h2v1h-2zM922,413h2v1h-2zM928,413h2v1h-2zM935,413h2v1h-2zM941,413h2v1h-2zM947,413h2v1h-2zM954,413h2v1h-2zM960,413h2v1h-2zM966,413h2v1h-2zM973,413h2v1h-2zM979,413h2v1h-2zM986,413h2v1h-2zM992,413h2v1h-2zM998,413h2v1h-2zM1005,413h2v1h-2zM1011,413h2v1h-2zM1017,413h2v1h-2zM1024,413h2v1h-2zM1030,413h2v1h-2zM1036,413h2v1h-2zM1043,413h2v1h-2zM1049,413h2v1h-2zM1056,413h2v1h-2zM1062,413h2v1h-2zM1068,413h2v1h-2zM1075,413h2v1h-2zM1081,413h2v1h-2zM1087,413h2v1h-2zM1094,413h2v1h-2z" fill="#000" shape-rendering="crispEdges"/>
<line x1="69" y1="413.5" x2="75" y2="413.5" stroke="#000" stroke-width="1"/>
<text x="11.80" y="419.00" font-size="18" textLength="47.00" lengthAdjust="spacing" stroke="#000" stroke-width="0.10">10000</text>
<line x1="68" y1="454.5" x2="75" y2="454.5" stroke="#000" stroke-width="1"/>
<text x="49.60" y="461.00" font-size="18" textLength="6.60" lengthAdjust="spacing" stroke="#000" stroke-width="0.10">0</text>
<line x1="74.5" y1="35" x2="74.5" y2="455" stroke="#000" stroke-width="1"/>
<line x1="68" y1="454.5" x2="1100" y2="454.5" stroke="#000" stroke-width="1"/>
<line x1="74.5" y1="454" x2="74.5" y2="459" stroke="#000" stroke-width="1"/>
<line x1="159.5" y1="454" x2="159.5" y2="459" stroke="#000" stroke-width="1"/>
<line x1="245.5" y1="454" x2="245.5" y2="459" stroke="#000" stroke-width="1"/>
<line x1="330.5" y1="454" x2="330.5" y2="459" stroke="#000" stroke-width="1"/>
<line x1="416.5" y1="454" x2="416.5" y2="459" stroke="#000" stroke-width="1"/>
<line x1="501.5" y1="454" x2="501.5" y2="459" stroke="#000" stroke-width="1"/>
<line x1="586.5" y1="454" x2="586.5" y2="459" stroke="#000" stroke-width="1"/>
<line x1="672.5" y1="454" x2="672.5" y2="459" stroke="#000" stroke-width="1"/>
<line x1="757.5" y1="454" x2="757.5" y2="459" stroke="#000" stroke-width="1"/>
<line x1="843.5" y1="454" x2="843.5" y2="459" stroke="#000" stroke-width="1"/>
<line x1="928.5" y1="454" x2="928.5" y2="459" stroke="#000" stroke-width="1"/>
<line x1="1014.5" y1="454" x2="1014.5" y2="459" stroke="#000" stroke-width="1"/>
<line x1="1099.5" y1="454" x2="1099.5" y2="459" stroke="#000" stroke-width="1"/>
<text x="89.00" y="483.00" font-size="16" textLength="53.20" lengthAdjust="spacingAndGlyphs">Грудень</text>
<text x="180.20" y="483.00" font-size="16" textLength="42.60" lengthAdjust="spacingAndGlyphs">Січень</text>
<text x="265.20" y="483.00" font-size="16" textLength="44.80" lengthAdjust="spacingAndGlyphs">Лютий</text>
<text x="342.00" y="483.00" font-size="16" textLength="60.60" lengthAdjust="spacingAndGlyphs">Березень</text>
<text x="433.20" y="483.00" font-size="16" textLength="49.20" lengthAdjust="spacingAndGlyphs">Квітень</text>
<text x="518.20" y="483.00" font-size="16" textLength="51.00" lengthAdjust="spacingAndGlyphs">Травень</text>
<text x="602.60" y="483.00" font-size="16" textLength="52.40" lengthAdjust="spacingAndGlyphs">Червень</text>
<text x="691.20" y="483.00" font-size="16" textLength="45.60" lengthAdjust="spacingAndGlyphs">Липень</text>
<text x="773.60" y="483.00" font-size="16" textLength="52.20" lengthAdjust="spacingAndGlyphs">Серпень</text>
<text x="854.00" y="483.00" font-size="16" textLength="62.00" lengthAdjust="spacingAndGlyphs">Вересень</text>
<text x="942.20" y="483.00" font-size="16" textLength="56.20" lengthAdjust="spacingAndGlyphs">Жовтень</text>
<text x="1024.00" y="483.00" font-size="16" textLength="63.80" lengthAdjust="spacingAndGlyphs">Листопад</text>
<path d="M116.30,260.50 C130.60,264.78 173.58,284.12 202.12,286.20 C230.67,288.28 259.07,275.20 287.54,273.00 C316.01,270.80 344.49,272.25 372.96,273.00 C401.43,273.75 429.90,276.77 458.38,277.50 C486.85,278.23 515.32,278.82 543.79,277.40 C572.26,275.98 600.74,270.40 629.21,269.00 C657.68,267.60 686.15,266.22 714.62,269.00 C743.10,271.78 771.57,316.47 800.04,285.70 C828.51,254.93 856.99,86.48 885.46,84.40 C913.93,82.32 942.40,243.85 970.88,273.20 C999.35,302.55 1042.06,262.62 1056.29,260.50" fill="none" stroke="#000" stroke-width="2" shape-rendering="crispEdges"/>
<circle cx="116.30" cy="260.50" r="7" fill="#000" shape-rendering="crispEdges"/>
<circle cx="202.12" cy="286.20" r="7" fill="#000" shape-rendering="crispEdges"/>
<circle cx="287.54" cy="273.00" r="7" fill="#000" shape-rendering="crispEdges"/>
<circle cx="372.96" cy="273.00" r="7" fill="#000" shape-rendering="crispEdges"/>
<circle cx="458.38" cy="277.50" r="7" fill="#000" shape-rendering="crispEdges"/>
<circle cx="543.79" cy="277.40" r="7" fill="#000" shape-rendering="crispEdges"/>
<circle cx="629.21" cy="269.00" r="7" fill="#000" shape-rendering="crispEdges"/>
<circle cx="714.62" cy="269.00" r="7" fill="#000" shape-rendering="crispEdges"/>
<circle cx="800.04" cy="285.70" r="7" fill="#000" shape-rendering="crispEdges"/>
<circle cx="885.46" cy="84.40" r="7" fill="#000" shape-rendering="crispEdges"/>
<circle cx="970.88" cy="273.20" r="7" fill="#000" shape-rendering="crispEdges"/>
<circle cx="1056.29" cy="260.50" r="7" fill="#000" shape-rendering="crispEdges"/>
<path d="M116.30,408.50 C130.60,413.42 173.58,437.33 202.12,438.00 C230.67,438.67 259.07,413.08 287.54,412.50 C316.01,411.92 344.49,432.08 372.96,434.50 C401.43,436.92 429.90,428.25 458.38,427.00 C486.85,425.75 515.32,427.77 543.79,427.00 C572.26,426.23 600.74,423.00 629.21,422.40 C657.68,421.80 686.15,422.73 714.62,423.40 C743.10,424.07 771.57,424.63 800.04,426.40 C828.51,428.17 856.99,435.23 885.46,434.00 C913.93,432.77 942.40,420.27 970.88,419.00 C999.35,417.73 1042.06,425.17 1056.29,426.40" fill="none" stroke="#f0f" stroke-width="2" shape-rendering="crispEdges"/>
<rect x="108.80" y="401.00" width="15" height="15" fill="#f0f" shape-rendering="crispEdges"/>
<rect x="194.62" y="430.50" width="15" height="15" fill="#f0f" shape-rendering="crispEdges"/>
<rect x="280.04" y="405.00" width="15" height="15" fill="#f0f" shape-rendering="crispEdges"/>
<rect x="365.46" y="427.00" width="15" height="15" fill="#f0f" shape-rendering="crispEdges"/>
<rect x="450.88" y="419.50" width="15" height="15" fill="#f0f" shape-rendering="crispEdges"/>
<rect x="536.29" y="419.50" width="15" height="15" fill="#f0f" shape-rendering="crispEdges"/>
<rect x="621.71" y="414.90" width="15" height="15" fill="#f0f" shape-rendering="crispEdges"/>
<rect x="707.12" y="415.90" width="15" height="15" fill="#f0f" shape-rendering="crispEdges"/>
<rect x="792.54" y="418.90" width="15" height="15" fill="#f0f" shape-rendering="crispEdges"/>
<rect x="877.96" y="426.50" width="15" height="15" fill="#f0f" shape-rendering="crispEdges"/>
<rect x="963.38" y="411.50" width="15" height="15" fill="#f0f" shape-rendering="crispEdges"/>
<rect x="1048.79" y="418.90" width="15" height="15" fill="#f0f" shape-rendering="crispEdges"/>
<line x1="116.30" y1="454" x2="1056.29" y2="454" stroke="#800080" stroke-width="2"/>
<path d="M115.30,446 L117.30,446 L123.80,461 L108.80,461 Z" fill="#800080" shape-rendering="crispEdges"/>
<path d="M201.12,446 L203.12,446 L209.62,461 L194.62,461 Z" fill="#800080" shape-rendering="crispEdges"/>
<path d="M286.54,446 L288.54,446 L295.04,461 L280.04,461 Z" fill="#800080" shape-rendering="crispEdges"/>
<path d="M371.96,446 L373.96,446 L380.46,461 L365.46,461 Z" fill="#800080" shape-rendering="crispEdges"/>
<path d="M457.38,446 L459.38,446 L465.88,461 L450.88,461 Z" fill="#800080" shape-rendering="crispEdges"/>
<path d="M542.79,446 L544.79,446 L551.29,461 L536.29,461 Z" fill="#800080" shape-rendering="crispEdges"/>
<path d="M628.21,446 L630.21,446 L636.71,461 L621.71,461 Z" fill="#800080" shape-rendering="crispEdges"/>
<path d="M713.62,446 L715.62,446 L722.12,461 L707.12,461 Z" fill="#800080" shape-rendering="crispEdges"/>
<path d="M799.04,446 L801.04,446 L807.54,461 L792.54,461 Z" fill="#800080" shape-rendering="crispEdges"/>
<path d="M884.46,446 L886.46,446 L892.96,461 L877.96,461 Z" fill="#800080" shape-rendering="crispEdges"/>
<path d="M969.88,446 L971.88,446 L978.38,461 L963.38,461 Z" fill="#800080" shape-rendering="crispEdges"/>
<path d="M1055.29,446 L1057.29,446 L1063.79,461 L1048.79,461 Z" fill="#800080" shape-rendering="crispEdges"/>
<rect x="38.5" y="515.5" width="1014" height="28" fill="none" stroke="#000" stroke-width="1"/>
<line x1="76" y1="530" x2="111" y2="530" stroke="#000" stroke-width="2"/>
<circle cx="92.8" cy="529.5" r="6.4" fill="#000" shape-rendering="crispEdges"/>
<text x="114.80" y="535.60" font-size="18" textLength="271.20" lengthAdjust="spacingAndGlyphs" stroke="#000" stroke-width="0.20">Вода на вході в очисні споруди</text>
<line x1="459" y1="530" x2="494" y2="530" stroke="#f0f" stroke-width="2"/>
<rect x="470" y="523" width="13" height="13" fill="#f0f"/>
<text x="499.20" y="535.60" font-size="18" textLength="268.80" lengthAdjust="spacingAndGlyphs" stroke="#000" stroke-width="0.20">Вихід із вторинних відстійників</text>
<line x1="841" y1="530" x2="877" y2="530" stroke="#800080" stroke-width="2"/>
<path d="M858.3,524 L860.3,524 L866.3,537 L852,537 Z" fill="#800080" shape-rendering="crispEdges"/>
<text x="881.00" y="535.60" font-size="18" textLength="130.00" lengthAdjust="spacingAndGlyphs" stroke="#000" stroke-width="0.20">Вихід із бістава</text>
</svg></body></html>
